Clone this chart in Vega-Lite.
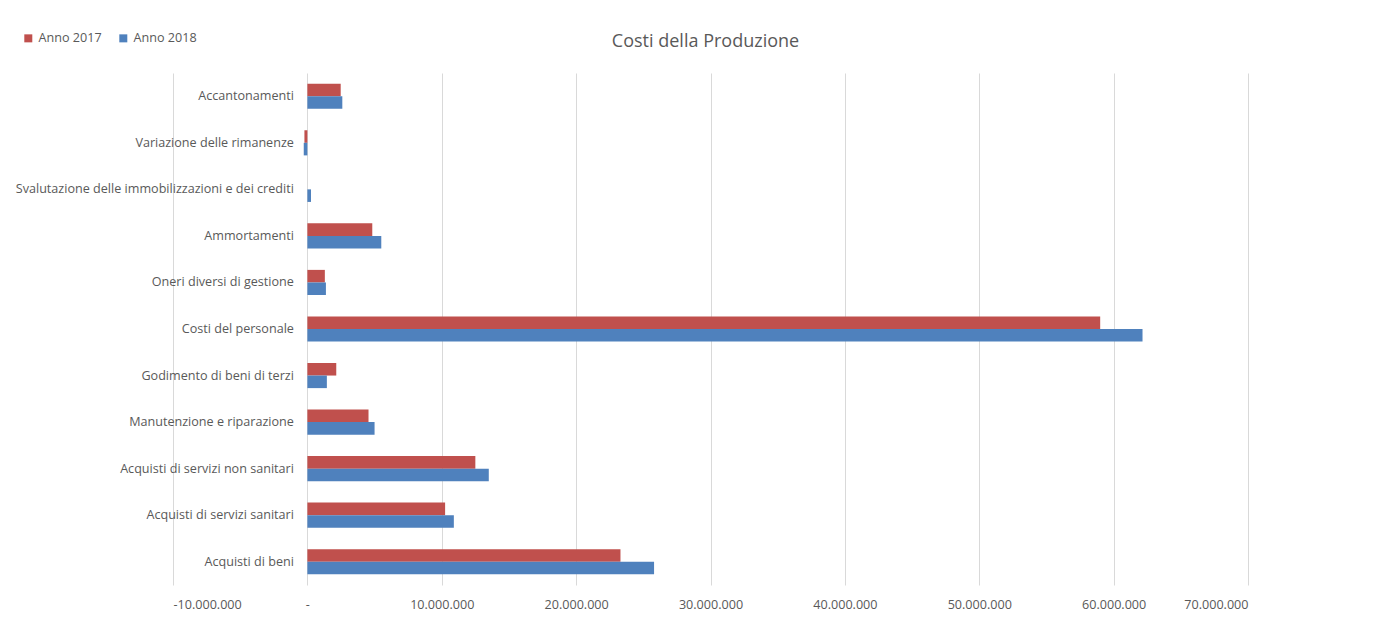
{
  "$schema": "https://vega.github.io/schema/vega-lite/v6.json",
  "width": 1075,
  "height": 512,
  "autosize": "none",
  "padding": {"left": 173, "top": 73, "right": 142, "bottom": 32},
  "background": "white",
  "title": {
    "text": "Costi della Produzione",
    "font": "Open Sans",
    "fontSize": 18,
    "fontWeight": "normal",
    "color": "#595959",
    "anchor": "middle",
    "dx": -5,
    "offset": 0,
    "dy": 19
  },
  "config": {
    "locale": {"number": {"decimal": ",", "thousands": ".", "grouping": [3], "currency": ["€", ""], "minus": "-"}},
    "view": {"stroke": null},
    "font": "Open Sans"
  },
  "data": {
    "values": [
      {"Categoria": "Accantonamenti", "Anno": "Anno 2017", "Valore": 2480000},
      {"Categoria": "Accantonamenti", "Anno": "Anno 2018", "Valore": 2600000},
      {"Categoria": "Variazione delle rimanenze", "Anno": "Anno 2017", "Valore": -220000},
      {"Categoria": "Variazione delle rimanenze", "Anno": "Anno 2018", "Valore": -270000},
      {"Categoria": "Svalutazione delle immobilizzazioni e dei crediti", "Anno": "Anno 2017", "Valore": 0},
      {"Categoria": "Svalutazione delle immobilizzazioni e dei crediti", "Anno": "Anno 2018", "Valore": 270000},
      {"Categoria": "Ammortamenti", "Anno": "Anno 2017", "Valore": 4830000},
      {"Categoria": "Ammortamenti", "Anno": "Anno 2018", "Valore": 5500000},
      {"Categoria": "Oneri diversi di gestione", "Anno": "Anno 2017", "Valore": 1300000},
      {"Categoria": "Oneri diversi di gestione", "Anno": "Anno 2018", "Valore": 1380000},
      {"Categoria": "Costi del personale", "Anno": "Anno 2017", "Valore": 59000000},
      {"Categoria": "Costi del personale", "Anno": "Anno 2018", "Valore": 62150000},
      {"Categoria": "Godimento di beni di terzi", "Anno": "Anno 2017", "Valore": 2150000},
      {"Categoria": "Godimento di beni di terzi", "Anno": "Anno 2018", "Valore": 1450000},
      {"Categoria": "Manutenzione e riparazione", "Anno": "Anno 2017", "Valore": 4550000},
      {"Categoria": "Manutenzione e riparazione", "Anno": "Anno 2018", "Valore": 5000000},
      {"Categoria": "Acquisti di servizi non sanitari", "Anno": "Anno 2017", "Valore": 12500000},
      {"Categoria": "Acquisti di servizi non sanitari", "Anno": "Anno 2018", "Valore": 13500000},
      {"Categoria": "Acquisti di servizi sanitari", "Anno": "Anno 2017", "Valore": 10250000},
      {"Categoria": "Acquisti di servizi sanitari", "Anno": "Anno 2018", "Valore": 10900000},
      {"Categoria": "Acquisti di beni", "Anno": "Anno 2017", "Valore": 23300000},
      {"Categoria": "Acquisti di beni", "Anno": "Anno 2018", "Valore": 25800000}
    ]
  },
  "mark": {"type": "bar"},
  "encoding": {
    "y": {
      "field": "Categoria",
      "type": "nominal",
      "sort": null,
      "scale": {"paddingInner": 0.46, "paddingOuter": 0.23},
      "axis": {
        "title": null,
        "offset": -134.4,
        "domain": false,
        "ticks": false,
        "tickSize": 0,
        "labelPadding": 14,
        "labelFont": "Open Sans",
        "labelFontSize": 12.6,
        "labelColor": "#595959",
        "labelLimit": 400
      }
    },
    "yOffset": {
      "field": "Anno",
      "type": "nominal",
      "sort": ["Anno 2017", "Anno 2018"],
      "scale": {"paddingInner": 0, "paddingOuter": 0}
    },
    "x": {
      "field": "Valore",
      "type": "quantitative",
      "scale": {"domain": [-10000000, 70000000], "nice": false, "zero": false},
      "axis": {
        "title": null,
        "values": [-10000000, 0, 10000000, 20000000, 30000000, 40000000, 50000000, 60000000, 70000000],
        "format": ",.0f",
        "labelExpr": "datum.value === 0 ? '-' : datum.label",
        "domain": false,
        "ticks": false,
        "tickSize": 0,
        "labelPadding": 13,
        "labelFont": "Open Sans",
        "labelFontSize": 12.6,
        "labelColor": "#595959",
        "grid": true,
        "gridColor": "#D9D9D9",
        "gridWidth": 1
      }
    },
    "color": {
      "field": "Anno",
      "type": "nominal",
      "scale": {"domain": ["Anno 2017", "Anno 2018"], "range": ["#C0504D", "#4F81BD"]},
      "legend": {
        "title": null,
        "orient": "none",
        "direction": "horizontal",
        "legendX": -151,
        "legendY": -41,
        "padding": 0,
        "symbolType": "square",
        "symbolSize": 64,
        "symbolStrokeWidth": 0,
        "labelFont": "Open Sans",
        "labelFontSize": 12.6,
        "labelColor": "#595959",
        "labelOffset": 4,
        "columnPadding": 15
      }
    }
  }
}
